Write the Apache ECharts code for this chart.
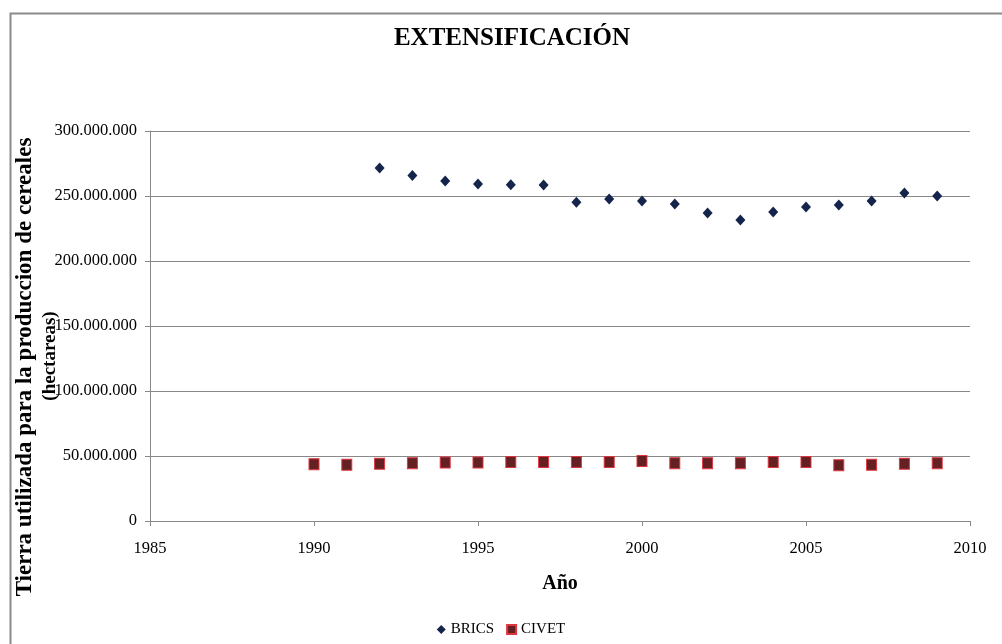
<!DOCTYPE html>
<html>
<head>
<meta charset="utf-8">
<script src="https://cdn.jsdelivr.net/npm/echarts@6/dist/echarts.min.js"></script>
<style>html,body{margin:0;padding:0;background:#fff;}#c{width:1002px;height:644px;}</style>
</head>
<body>
<div id="c"></div>
<script>
var years = [1990,1991,1992,1993,1994,1995,1996,1997,1998,1999,2000,2001,2002,2003,2004,2005,2006,2007,2008,2009];
var bricsYears = [1992,1993,1994,1995,1996,1997,1998,1999,2000,2001,2002,2003,2004,2005,2006,2007,2008,2009];
var bricsValues = [271.5,265.8,261.5,259.2,258.7,258.5,245.1,247.7,246.2,243.8,236.9,231.5,237.7,241.5,243.1,246.2,252.3,250.0];
var civetValues = [43.7,43.3,44.1,44.5,45.0,45.0,45.4,45.4,45.4,45.4,46.1,44.5,44.5,44.5,45.4,45.4,42.9,43.3,44.1,44.5];
var title = 'EXTENSIFICACIÓN';
var xTitle = 'Año';
var yTitle1 = 'Tierra utilizada para la produccion de cereales';
var yTitle2 = '(hectareas)';

var F = 'Liberation Serif, Times New Roman, serif';
function fmt(v){
  var s = String(Math.round(v*1000000));
  return s.replace(/\B(?=(\d{3})+(?!\d))/g, '.');
}
var chart = echarts.init(document.getElementById('c'));
chart.setOption({
  animation: false,
  backgroundColor: '#fff',
  title: {
    text: title, left: 507, top: 21, textAlign: 'center',
    textStyle: {fontFamily: F, fontSize: 25, fontWeight: 'bold', color: '#000'}
  },
  legend: {
    bottom: 2, left: 'center', itemGap: 12, itemWidth: 9, itemHeight: 9,
    textStyle: {fontFamily: F, fontSize: 15, color: '#000'},
    data: [{name:'BRICS', icon:'diamond'}, {name:'CIVET', icon:'rect'}]
  },
  grid: {left: 150, right: 32, top: 131, bottom: 123, containLabel: false},
  xAxis: {
    type: 'value', min: 1985, max: 2010, interval: 5,
    name: xTitle, nameLocation: 'middle', nameGap: 53,
    nameTextStyle: {fontFamily: F, fontSize: 20, fontWeight: 'bold', color: '#000'},
    axisLine: {show: true, lineStyle: {color: '#888', width: 1}},
    axisTick: {show: true, length: 5, lineStyle: {color: '#888'}},
    axisLabel: {fontFamily: F, fontSize: 16.5, color: '#000', margin: 19, formatter: function(v){return String(v);}},
    splitLine: {show: false}
  },
  yAxis: {
    type: 'value', min: 0, max: 300, interval: 50,
    axisLine: {show: true, lineStyle: {color: '#888', width: 1}},
    axisTick: {show: true, length: 5, lineStyle: {color: '#888'}},
    axisLabel: {fontFamily: F, fontSize: 16.5, color: '#000', margin: 13, formatter: fmt},
    splitLine: {show: true, lineStyle: {color: '#888', width: 1}}
  },
  series: [
    {
      name: 'BRICS', type: 'scatter', symbol: 'diamond', symbolSize: [10, 11],
      itemStyle: {color: '#14244a', opacity: 1},
      data: bricsYears.map(function(y,i){return [y, bricsValues[i]];})
    },
    {
      name: 'CIVET', type: 'scatter', symbol: 'rect', symbolSize: [10, 11],
      itemStyle: {color: '#652024', borderColor: '#e0353f', borderWidth: 1, opacity: 1},
      data: years.map(function(y,i){return [y, civetValues[i]];})
    }
  ],
  graphic: [
    {type: 'rect', left: 8, top: 11, shape: {width: 1100, height: 700}, silent: true, z: -1,
     style: {fill: 'none', stroke: '#8a8a8a', lineWidth: 2}},
    {type: 'text', x: 25, y: 367, rotation: Math.PI/2, silent: true,
     style: {text: yTitle1, fontFamily: F, fontSize: 23, fontWeight: 'bold', fill: '#000', align: 'center', verticalAlign: 'middle'}},
    {type: 'text', x: 50, y: 356, rotation: Math.PI/2, silent: true,
     style: {text: yTitle2, fontFamily: F, fontSize: 19, fontWeight: 'bold', fill: '#000', align: 'center', verticalAlign: 'middle'}}
  ]
});
</script>
</body>
</html>
